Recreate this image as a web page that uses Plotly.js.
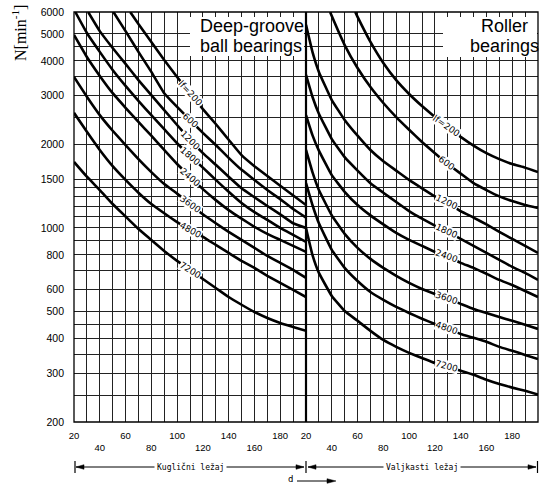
<!DOCTYPE html>
<html><head><meta charset="utf-8">
<script src="https://cdn.plot.ly/plotly-3.0.1.min.js"></script>
<style>html,body{margin:0;padding:0;background:#fff;}#chart{width:545px;height:484px;}</style>
</head><body><div id="chart"></div>
<script>
// ---------- data ----------
const curveLabels = ['lf=200','600','1200','1800','2400','3600','4800','7200'];

// Deep-groove ball bearings (left panel): d [mm] -> N [min^-1]
const ballD_200  = [63.6,70,80,90,100,110,120,130,140,150,160,180,200];
const ballN_200  = [6000,5430,4680,4030,3500,3060,2680,2370,2080,1830,1670,1420,1210];
const ballD_600  = [50.6,60,70,80,90,100,110,120,130,140,150,160,170,180,190,200];
const ballN_600  = [6000,5120,4310,3650,3060,2730,2450,2200,1990,1790,1620,1490,1370,1270,1170,1090];
const ballD_1200 = [31,40,50,60,70,80,90,100,110,120,130,140,150,160,170,180,190,200];
const ballN_1200 = [6000,5120,4450,3900,3410,3010,2660,2350,2080,1860,1690,1530,1390,1290,1200,1120,1040,1000];
const ballD_1800 = [21,30,40,50,60,70,80,90,100,110,120,130,140,150,160,170,180,190,200];
const ballN_1800 = [6000,5040,4310,3710,3250,2870,2550,2270,2020,1820,1650,1490,1350,1230,1140,1070,1000,944,891];
const ballD      = [20,30,40,50,60,70,80,90,100,110,120,130,140,150,160,170,180,190,200];
const ballN_2400 = [4960,4130,3530,3060,2710,2410,2150,1910,1700,1530,1380,1260,1160,1080,1010,952,906,862,820];
const ballN_3600 = [3500,2970,2550,2240,1990,1770,1590,1440,1330,1220,1120,1040,968,906,848,793,749,707,661];
const ballN_4800 = [2600,2220,1910,1670,1490,1340,1220,1130,1050,984,929,869,813,761,718,672,634,598,564];
const ballN_7200 = [1730,1530,1370,1220,1100,992,906,827,761,707,655,608,564,529,498,474,455,440,426];

// Roller bearings (right panel)
const rollD_200  = [58.2,60,70,80,90,100,110,120,130,140,150,160,170,180,190,200];
const rollN_200  = [6000,5760,4680,3930,3410,3040,2750,2510,2310,2130,1980,1860,1770,1700,1650,1590];
const rollD_600  = [38.7,40,50,60,70,80,90,100,110,120,130,140,150,160,170,180,190,200];
const rollN_600  = [6000,5800,4560,3770,3220,2820,2510,2260,2040,1860,1700,1570,1450,1370,1300,1250,1210,1180];
const rollD      = [20,25,30,40,50,60,70,80,90,100,110,120,130,140,150,160,170,180,190,200];
const rollN_1200 = [5390,4310,3650,2890,2450,2150,1910,1740,1610,1490,1390,1300,1230,1150,1090,1030,968,913,862,813];
const rollN_1800 = [3560,2970,2580,2090,1800,1610,1450,1340,1240,1150,1080,1020,968,913,862,813,768,724,689,650];
const rollN_2400 = [2550,2160,1900,1550,1350,1210,1110,1030,960,906,862,820,787,749,718,684,650,623,593,564];
const rollN_3600 = [1910,1590,1370,1110,952,848,774,718,672,634,603,578,556,533,511,494,478,463,448,433];
const rollN_4800 = [1450,1210,1040,834,718,644,588,551,520,494,471,451,433,415,402,389,373,361,349,337];
const rollN_7200 = [1000,800,689,569,502,463,426,395,373,355,340,326,316,306,296,284,274,266,259,251];

const xTickVals = [20,30,40,50,60,70,80,90,100,110,120,130,140,150,160,170,180,190,200];
const yTickVals = [200,250,300,350,400,450,500,600,700,800,900,1000,1100,1200,1300,1400,1500,2000,2500,3000,3500,4000,4500,5000,6000];
const yTickLabels = ['200','','300','','400','','500','600','','800','','1000','','','','','1500','2000','','3000','','4000','','5000','6000'];
const panelTitles = ['Deep-groove','ball bearings','Roller','bearings'];
const axisNames = ['Kuglični ležaj','Valjkasti ležaj','d'];
const labelD = {ball:110, roll:129};

// ---------- build ----------
const ballSets = [[ballD_200,ballN_200],[ballD_600,ballN_600],[ballD_1200,ballN_1200],[ballD_1800,ballN_1800],
  [ballD,ballN_2400],[ballD,ballN_3600],[ballD,ballN_4800],[ballD,ballN_7200]];
const rollSets = [[rollD_200,rollN_200],[rollD_600,rollN_600],[rollD,rollN_1200],[rollD,rollN_1800],
  [rollD,rollN_2400],[rollD,rollN_3600],[rollD,rollN_4800],[rollD,rollN_7200]];

const traces = [];
function addSet(sets, xa){
  sets.forEach(s => traces.push({x:s[0], y:s[1], xaxis:xa, yaxis:'y', mode:'lines', type:'scatter',
    line:{color:'#000', width:2.6, shape:'spline', smoothing:0.3}, hoverinfo:'skip', showlegend:false}));
}
addSet(ballSets,'x'); addSet(rollSets,'x2');

// plot geometry (pixels)
const L=74, R=538, T=12, B=422;
const pxPerD = (R-L)/2/180, pxPerDec = (B-T)/(Math.log10(6000)-Math.log10(200));
const P = (x,y)=>[(x-L)/(R-L),(B-y)/(B-T)];

const annotations = [];
function labelOn(sets, xa, d){
  sets.forEach((s,i)=>{
    const D=s[0], N=s[1]; let k=0;
    while(k<D.length-2 && D[k+1]<d) k++;
    const t=(d-D[k])/(D[k+1]-D[k]);
    const l0=Math.log10(N[k]), l1=Math.log10(N[k+1]);
    const ly=l0+t*(l1-l0);
    const ang=Math.atan2((l0-l1)*pxPerDec,(D[k+1]-D[k])*pxPerD)*180/Math.PI;
    annotations.push({x:d, y:ly, xref:xa, yref:'y', text:curveLabels[i], showarrow:false,
      textangle:ang*0.92, bgcolor:'#fff', borderpad:0, font:{family:'DejaVu Sans', size:9, color:'#000'}});
  });
}
labelOn(ballSets,'x',labelD.ball); labelOn(rollSets,'x2',labelD.roll);

function pa(x,y,text,opt){
  const p=P(x,y);
  annotations.push(Object.assign({x:p[0], y:p[1], xref:'paper', yref:'paper', text:text, showarrow:false,
    xanchor:'center', yanchor:'middle', font:{family:'Liberation Sans', size:18, color:'#000'}}, opt||{}));
}
pa(198,26,panelTitles[0],{xanchor:'left'});
pa(198,46,panelTitles[1],{xanchor:'left'});
pa(504,26,panelTitles[2]);
pa(504,46,panelTitles[3]);
pa(190,467,axisNames[0],{bgcolor:'#fff', borderpad:2, font:{family:'DejaVu Sans Mono', size:8, color:'#000'}});
pa(422,467,axisNames[1],{bgcolor:'#fff', borderpad:2, font:{family:'DejaVu Sans Mono', size:8, color:'#000'}});
pa(290,479,axisNames[2],{font:{family:'DejaVu Sans Mono', size:9, color:'#000'}});
pa(19,33,'N[min<sup>-1</sup>]',{textangle:-90, font:{family:'Liberation Serif', size:16, color:'#000'}});

const shapes = [];
function rect(x0,y0,x1,y1,fill,lw){const a=P(x0,y0),b=P(x1,y1);
  shapes.push({type:'rect',xref:'paper',yref:'paper',x0:a[0],y0:a[1],x1:b[0],y1:b[1],layer:'above',
    fillcolor:fill||'rgba(0,0,0,0)',line:{color:fill?fill:'#000',width:lw===undefined?0:lw}});}
function seg(x0,y0,x1,y1,w){const a=P(x0,y0),b=P(x1,y1);
  shapes.push({type:'line',xref:'paper',yref:'paper',x0:a[0],y0:a[1],x1:b[0],y1:b[1],layer:'above',line:{color:'#000',width:w||1}});}
function tri(pts){shapes.push({type:'path',xref:'paper',yref:'paper',layer:'above',fillcolor:'#000',line:{color:'#000',width:0.5},
  path:'M'+pts.map(p=>{const q=P(p[0],p[1]);return q[0]+','+q[1];}).join(' L')+' Z'});}

rect(190,17,304,56,'#fff');
rect(443,17,537,57,'#fff');
rect(L,T,R,B,null,1.3);
seg(306,T,306,B,2.2);
// dimension rows
const ry=467;
seg(75,ry-6,75,ry+6,1.2); seg(76,ry,304,ry,1); tri([[76,ry],[84,ry-2.3],[84,ry+2.3]]); tri([[304,ry],[296,ry-2.3],[296,ry+2.3]]);
seg(306,ry-6,306,ry+6,1.2);
seg(308,ry,536,ry,1); tri([[308,ry],[316,ry-2.3],[316,ry+2.3]]); tri([[536,ry],[528,ry-2.3],[528,ry+2.3]]);
seg(537.5,ry-6,537.5,ry+6,1.2);
seg(297,481,330,481,1); tri([[336,481],[327,478.7],[327,483.3]]);

function xTicks(panel){
  return xTickVals.map(v=>{
    if(v%20) return '';
    if(panel===0 && v===200) return '';
    return ((v/20)%2===1) ? String(v) : '<br>'+v;
  });
}
const gridC='#222';
const xBase = {range:[20,200], tickmode:'array', tickvals:xTickVals, showgrid:true, gridcolor:gridC, gridwidth:1,
  zeroline:false, showline:false, ticks:'', anchor:'y', ticklabelstandoff:6,
  tickfont:{family:'Liberation Sans', size:9.5, color:'#000'}, fixedrange:true};

const layout = {
  width:545, height:484, margin:{l:L, r:545-R, t:T, b:484-B},
  paper_bgcolor:'#fff', plot_bgcolor:'#fff', showlegend:false,
  xaxis:Object.assign({}, xBase, {domain:[0,0.5], ticktext:xTicks(0)}),
  xaxis2:Object.assign({}, xBase, {domain:[0.5,1], ticktext:xTicks(1)}),
  yaxis:{type:'log', range:[Math.log10(200),Math.log10(6000)], tickmode:'array', tickvals:yTickVals, ticktext:yTickLabels,
    showgrid:true, gridcolor:gridC, gridwidth:1, zeroline:false, showline:false, ticks:'', ticklabelstandoff:9,
    tickfont:{family:'Liberation Sans', size:10.5, color:'#000'}, fixedrange:true},
  annotations:annotations, shapes:shapes
};
Plotly.newPlot('chart', traces, layout, {displayModeBar:false, staticPlot:true});
</script></body></html>
